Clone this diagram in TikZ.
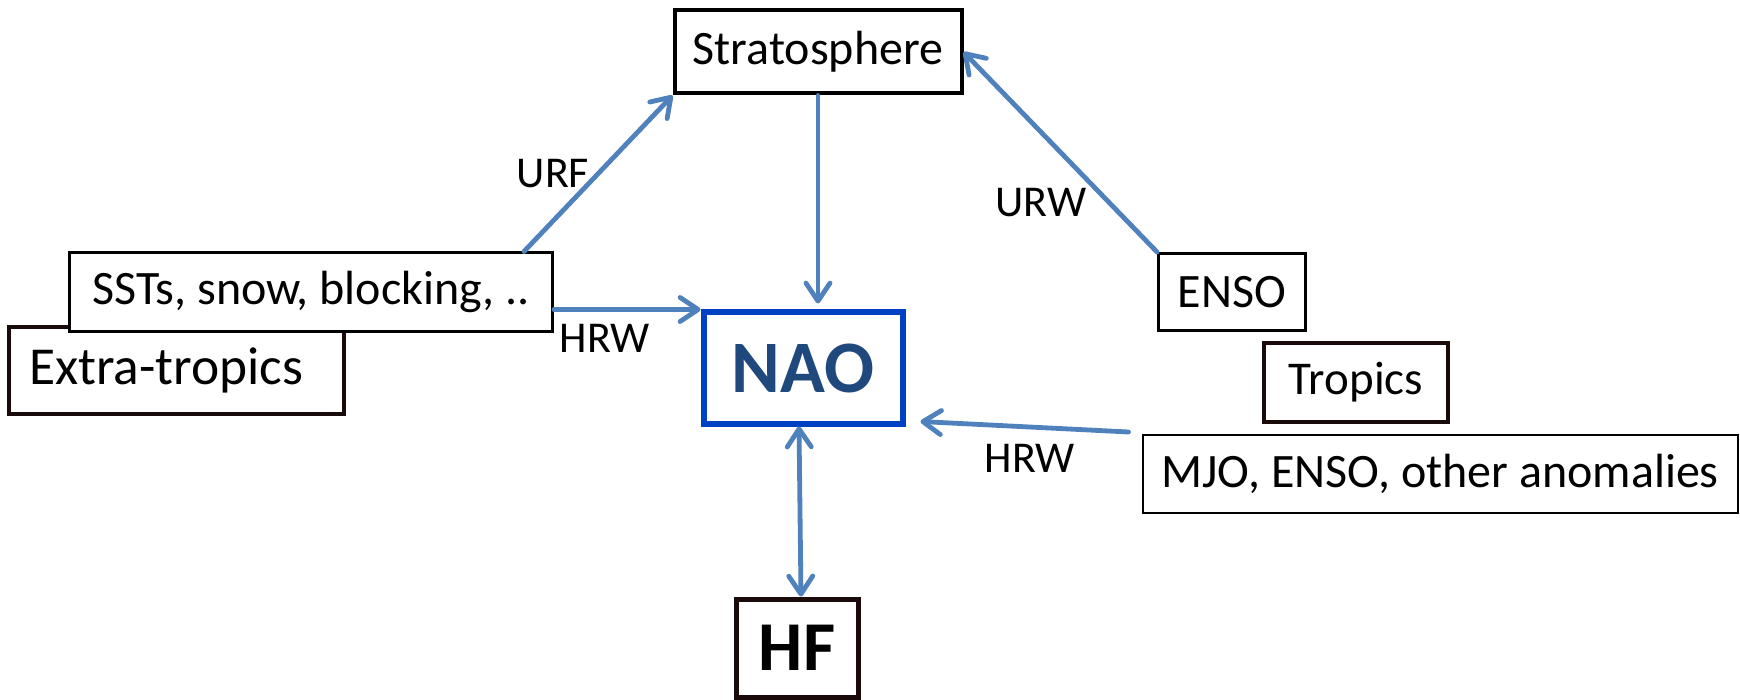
\documentclass[tikz,border=0pt]{standalone}
\usepackage{fontspec}
\setmainfont{Carlito}
\usetikzlibrary{arrows.meta, positioning, calc}

\definecolor{linkblue}{RGB}{79,129,189}
\definecolor{naoblue}{RGB}{0,65,195}
\definecolor{naotext}{RGB}{31,73,125}
\definecolor{darkframe}{RGB}{26,10,10}

\tikzset{
    box/.style={draw, fill=white, rectangle, inner sep=0pt, font=\fontsize{24}{28}\selectfont},
    link/.style={draw=linkblue, line width=2.4pt, line cap=round},
    lab/.style={inner sep=0pt, font=\fontsize{22}{26}\selectfont}
}

\begin{document}
\begin{tikzpicture}[x=0.5pt, y=-0.5pt, >={Straight Barb[length=9pt, width=12pt, line cap=round, line join=round]}]
    % Page frame, in pixels of the picture
    \useasboundingbox (0,0) rectangle (1740,700);

    % Upper box
    \node[box, line width=2pt, minimum width=143.5pt, minimum height=41.5pt] (strat) at (818,52) {Stratosphere};

    % Extra-tropical side
    \node[box, draw=darkframe, line width=2pt, minimum width=167.5pt, minimum height=43.5pt,
          text width=147pt, align=left, inner xsep=10pt, font=\fontsize{26.7}{30}\selectfont] (extra) at (176,370) {Extra-tropics};
    \node[box, line width=1.5pt, minimum width=241.5pt, minimum height=39pt] (ssts) at (311,292) {SSTs, snow, blocking, ..};

    % Centre box
    \node[box, draw=naoblue, text=naotext, line width=3pt, minimum width=99.5pt, minimum height=55.5pt,
          font=\fontsize{37}{42}\selectfont\bfseries] (nao) at (803,368) {NAO};

    % Tropical side
    \node[box, line width=1.5pt, minimum width=73.5pt, minimum height=38.5pt] (enso) at (1232,292) {ENSO};
    \node[box, draw=darkframe, line width=2pt, minimum width=92pt, minimum height=39.5pt,
          font=\fontsize{23.5}{27}\selectfont] (tropics) at (1356,382) {Tropics};
    \node[box, line width=1pt, minimum width=297.5pt, minimum height=39pt] (mjo) at (1440,474) {MJO, ENSO, other anomalies};

    % Lower box
    \node[box, draw=darkframe, line width=2.5pt, minimum width=61pt, minimum height=49pt,
          font=\fontsize{35}{40}\selectfont\bfseries] (hf) at (797,648) {HF};

    % Connectors
    \draw[link, ->] (ssts.north) ++(213,0) -- (strat.south west);
    \draw[link, ->, shorten >=3pt] (strat.south) -- (strat.south |- nao.north);
    \draw[link, ->] (enso.north west) -- (strat.east);
    \draw[link, ->] (nao.north west -| ssts.east) -- (nao.north west);
    \draw[link, ->] (mjo.north west) ++(-13,-2) -- ([xshift=7.5pt, yshift=2.5pt]nao.south east);
    \draw[link, <->] ([xshift=-2pt]nao.south) -- ([xshift=2pt]hf.north);

    % Connector labels
    \node[lab] (urf) at (553,174) {URF};
    \node[lab] (urw) at (1041,203) {URW};
    \node[lab] (hrwl) at (605,338) {HRW};
    \node[lab] (hrwr) at (1030,458) {HRW};

\end{tikzpicture}
\end{document}
